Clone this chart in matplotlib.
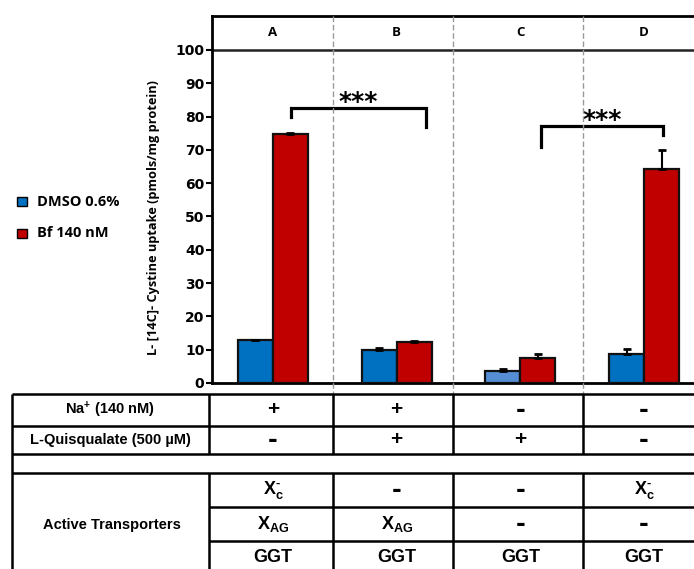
import matplotlib
matplotlib.use("Agg")
import matplotlib.pyplot as plt
import numpy as np
from matplotlib.transforms import Affine2D, blended_transform_factory
from matplotlib.lines import Line2D
from matplotlib.patches import Rectangle

# ---- data -------------------------------------------------------------
groups = ["A", "B", "C", "D"]
dmso = [12.9, 9.9, 3.6, 8.7]
dmso_err = [0.0, 0.7, 0.5, 1.5]
bf = [74.8, 12.4, 7.4, 64.4]
bf_err = [0.4, 0.2, 1.3, 5.7]
series_labels = ["DMSO 0.6%", "Bf 140 nM"]
yticks = list(range(0, 101, 10))
ylabel = "L- [14C]- Cystine uptake (pmols/mg protein)"

row_labels = ["Na$^{+}$ (140 nM)", "L-Quisqualate (500 \u00b5M)"]
na_row = ["+", "+", "-", "-"]
quis_row = ["-", "+", "+", "-"]
transp_label = "Active Transporters"
xc_row = ["X$_{c}^{\u2010}$", "-", "-", "X$_{c}^{\u2010}$"]
xag_row = ["X$_{AG}$", "X$_{AG}$", "-", "-"]
ggt_row = ["GGT", "GGT", "GGT", "GGT"]

# significance brackets: (x_left, x_right, y_left, y_top, y_right)
brackets = [(0.146, 1.234, 80.0, 82.6, 77.0),
            (2.167, 3.150, 71.0, 77.1, 74.4)]

# ---- style ------------------------------------------------------------
BLUE = "#0070C0"
BLUE_LIGHT = "#558ED5"
RED = "#C00000"
dmso_colors = [BLUE, BLUE, BLUE_LIGHT, BLUE]

plt.rcParams["mathtext.fontset"] = "custom"
plt.rcParams["mathtext.rm"] = "Liberation Sans:bold"
plt.rcParams["mathtext.bf"] = "Liberation Sans:bold"
plt.rcParams["mathtext.it"] = "Liberation Sans:bold"
plt.rcParams["mathtext.default"] = "bf"

W, H = 694, 569
fig = plt.figure(figsize=(W / 100, H / 100), dpi=100)
# pixel coordinates, origin top-left
px = Affine2D().scale(1 / W, -1 / H).translate(0, 1) + fig.transFigure

ax = fig.add_axes([212 / W, 1 - 383 / H, (W - 212) / W, (383 - 16) / H])
ax.set_xlim(-0.493, 3.404)
ax.set_ylim(0, 110.2)

x = np.arange(len(groups))
w = 0.283
ax.bar(x - w / 2, dmso, w, color=dmso_colors, edgecolor="#111111", linewidth=1.6, zorder=3)
ax.bar(x + w / 2, bf, w, color=RED, edgecolor="#111111", linewidth=1.6, zorder=3)
ax.errorbar(x - w / 2, dmso, yerr=[np.zeros(4), dmso_err], fmt="none", ecolor="black",
            elinewidth=1.5, capsize=2.8, capthick=2, zorder=4)
ax.errorbar(x + w / 2, bf, yerr=[np.zeros(4), bf_err], fmt="none", ecolor="black",
            elinewidth=1.5, capsize=2.8, capthick=2, zorder=4)

# spines / axes
ax.spines["right"].set_visible(False)
ax.spines["left"].set_linewidth(2)
ax.spines["bottom"].set_linewidth(2)
ax.spines["top"].set_linewidth(2)
ax.axhline(100, color="#222222", lw=1.8, zorder=2)
ax.set_xticks([])
ax.set_yticks(yticks)
ax.set_yticklabels([str(t) for t in yticks], fontfamily="DejaVu Sans",
                   fontweight="bold", fontsize=10)
ax.tick_params(axis="y", direction="out", length=4, width=1.5, pad=1.5)

# header letters
for i, g in enumerate(groups):
    ax.text(i, 105.1, g, ha="center", va="center", fontfamily="Open Sans",
            fontweight="bold", fontsize=9.5)

# significance brackets
for x0, x1, yl, yt, yr in brackets:
    ax.plot([x0, x0, x1, x1], [yl, yt, yt, yr], color="black", lw=2.3,
            solid_joinstyle="miter", zorder=5)
    ax.text((x0 + x1) / 2, yt - 0.2, "***", ha="center", va="baseline",
            fontfamily="DejaVu Sans", fontweight="bold", fontsize=18, zorder=5)

# y label
fig.text(154 / W, 1 - 218 / H, ylabel, rotation=90, ha="center", va="center",
         fontfamily="Open Sans", fontweight="bold", fontsize=9.2)

# legend
for (y0, col, lab) in [(197, BLUE, series_labels[0]), (228.5, RED, series_labels[1])]:
    fig.add_artist(Rectangle((17, y0), 10, 9, transform=px, facecolor=col,
                             edgecolor="black", linewidth=1.0))
    fig.text(37, y0 + 4.5, lab, transform=px, ha="left", va="center",
             fontfamily="Open Sans", fontweight="bold", fontsize=10.5)

# column dividers (chart + table share them)
col_lines = [332.7, 453, 583]
for cx in col_lines:
    fig.add_artist(Line2D([cx, cx], [16, 394], transform=px, color="#999999",
                          lw=1.0, linestyle=(0, (4, 2))))

# ---- condition table -------------------------------------------------
tl = dict(transform=px, color="black", lw=1.8, solid_capstyle="butt")
left, first_col = 12, 209
rows_y = [394, 425.7, 454, 472.7, 506.7, 540.7]
for y in rows_y[:4]:
    fig.add_artist(Line2D([left, W], [y, y], **tl))
for y in rows_y[4:]:
    fig.add_artist(Line2D([first_col, W], [y, y], **tl))
fig.add_artist(Line2D([left, left], [394, H], **tl))
for cx in [first_col] + col_lines:
    fig.add_artist(Line2D([cx, cx], [394, 454], **tl))
    fig.add_artist(Line2D([cx, cx], [472.7, H], **tl))

cell = blended_transform_factory(ax.transData, px)
lab_kw = dict(transform=px, ha="center", va="center", fontfamily="Liberation Sans",
              fontweight="bold", fontsize=10.5)
fig.text(110, 410, row_labels[0], **lab_kw)
fig.text(110, 440, row_labels[1], **lab_kw)
fig.text(112, 525, transp_label, **lab_kw)


def put(i, y, s):
    if s == "-":
        fig.text(i, y, s, transform=cell, ha="center", va="center",
                 fontfamily="DejaVu Sans", fontweight="bold", fontsize=17)
    elif s == "+":
        fig.text(i, y, s, transform=cell, ha="center", va="center",
                 fontfamily="Liberation Sans", fontweight="bold", fontsize=15)
    else:
        fig.text(i, y, s, transform=cell, ha="center", va="center",
                 fontfamily="Liberation Sans", fontweight="bold", fontsize=13)


for i in range(4):
    put(i, 410, na_row[i])
    put(i, 440, quis_row[i])
    put(i, 489.7, xc_row[i])
    put(i, 523.7, xag_row[i])
    put(i, 558, ggt_row[i])

fig.savefig("out.png", dpi=100)
